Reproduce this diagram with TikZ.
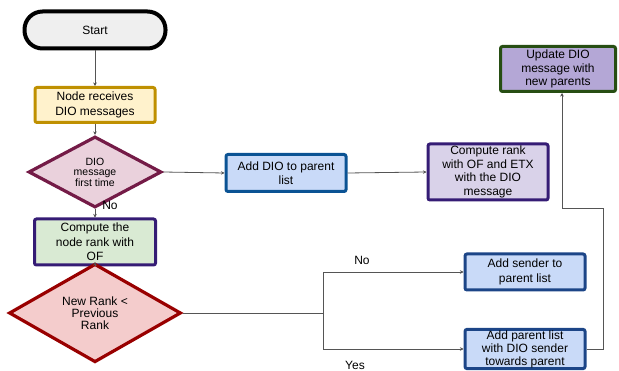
\documentclass[tikz,border=0pt]{standalone}
\usepackage{fontspec}
\setmainfont{Liberation Sans}
\usetikzlibrary{shapes.geometric,arrows.meta}
\definecolor{cstartf}{HTML}{EFEFEF}
\definecolor{crecvf}{HTML}{FFF2CC}
\definecolor{crecvd}{HTML}{BF9000}
\definecolor{cd1f}{HTML}{EAD1DC}
\definecolor{cd1d}{HTML}{741B47}
\definecolor{cbluef}{HTML}{C9DAF8}
\definecolor{cblued}{HTML}{0B5394}
\definecolor{cnavyd}{HTML}{1C4587}
\definecolor{clavf}{HTML}{D9D2E9}
\definecolor{cpurd}{HTML}{351C75}
\definecolor{cupdf}{HTML}{B4A7D6}
\definecolor{cgrnd}{HTML}{274E13}
\definecolor{cgrnf}{HTML}{D9EAD3}
\definecolor{cd2f}{HTML}{F4CCCC}
\definecolor{cd2d}{HTML}{990000}
\definecolor{cline}{HTML}{555555}
\tikzset{
  boxnode/.style={rectangle, rounded corners=2pt, line width=3pt, align=center,
    inner sep=1pt, font=\fontsize{12}{14.5}\selectfont},
  decnode/.style={diamond, line width=3.2pt, align=center, inner sep=0pt},
  conn/.style={draw=cline, line width=0.8pt, -{Stealth[length=3.5pt,width=3.5pt,fill=black]}},
  lbl/.style={font=\fontsize{12}{14}\selectfont, inner sep=0pt}
}
\begin{document}
\begin{tikzpicture}[x=1pt,y=-1pt]
\useasboundingbox (0,0) rectangle (619,371);
\node[boxnode, draw=black, fill=cstartf, line width=4pt, rounded corners=18pt,
  minimum width=141pt, minimum height=37pt] (start) at (95,30) {Start};
\node[boxnode, draw=crecvd, fill=crecvf, minimum width=120pt, minimum height=35pt] (recv) at (95,105) {Node receives\\DIO messages};
\node[decnode, draw=cd1d, fill=cd1f, minimum width=133pt, minimum height=53pt,
  font=\fontsize{10.5}{10.5}\selectfont] (d1) at (95,172) {DIO\\message\\first time};
\node[boxnode, draw=cblued, fill=cbluef, minimum width=120pt, minimum height=37pt] (adddio) at (286,173) {Add DIO to parent\\list};
\node[boxnode, draw=cpurd, fill=clavf, minimum width=120pt, minimum height=56pt,
  font=\fontsize{12}{13.5}\selectfont] (comprank) at (488,172) {Compute rank\\with OF and ETX\\with the DIO\\message};
\node[boxnode, draw=cgrnd, fill=cupdf, minimum width=115pt, minimum height=45pt,
  font=\fontsize{12}{13.5}\selectfont] (update) at (558,69) {Update DIO\\message with\\new parents};
\node[boxnode, draw=cpurd, fill=cgrnf, minimum width=121pt, minimum height=46pt] (compnode) at (95,242) {Compute the\\node rank with\\OF};
\node[decnode, draw=cd2d, fill=cd2f, minimum width=172pt, minimum height=51pt,
  font=\fontsize{12}{12}\selectfont] (d2) at (95,313) {New Rank <\\Previous\\Rank};
\node[boxnode, draw=cnavyd, fill=cbluef, minimum width=120pt, minimum height=36pt] (sender) at (525,272) {Add sender to\\parent list};
\node[boxnode, draw=cnavyd, fill=cbluef, minimum width=120pt, minimum height=35pt,
  font=\fontsize{12}{13}\selectfont] (plist) at (525,349) {Add parent list\\with DIO sender\\towards parent};
\coordinate (split) at (323,313);
\coordinate (fb) at (603,208);
\draw[conn] (start) -- (recv);
\draw[conn] (recv) -- (d1);
\draw[conn] (d1.east) -- (adddio.west);
\draw[conn] (adddio.east) -- (comprank.west);
\draw[conn] (d1.south) -- (compnode.north);
\draw[conn] (compnode) -- (d2);
\draw[conn] (d2.east) -- (split) |- (sender.west);
\draw[conn] (split) |- (plist.west);
\draw[conn] (plist.east) -| (fb) -| ([xshift=4pt]update.south);
\node[lbl] (lno1) at (110,205) {No};
\node[lbl] (lno2) at (362,260) {No};
\node[lbl] (lyes) at (355,365) {Yes};
\end{tikzpicture}
\end{document}
